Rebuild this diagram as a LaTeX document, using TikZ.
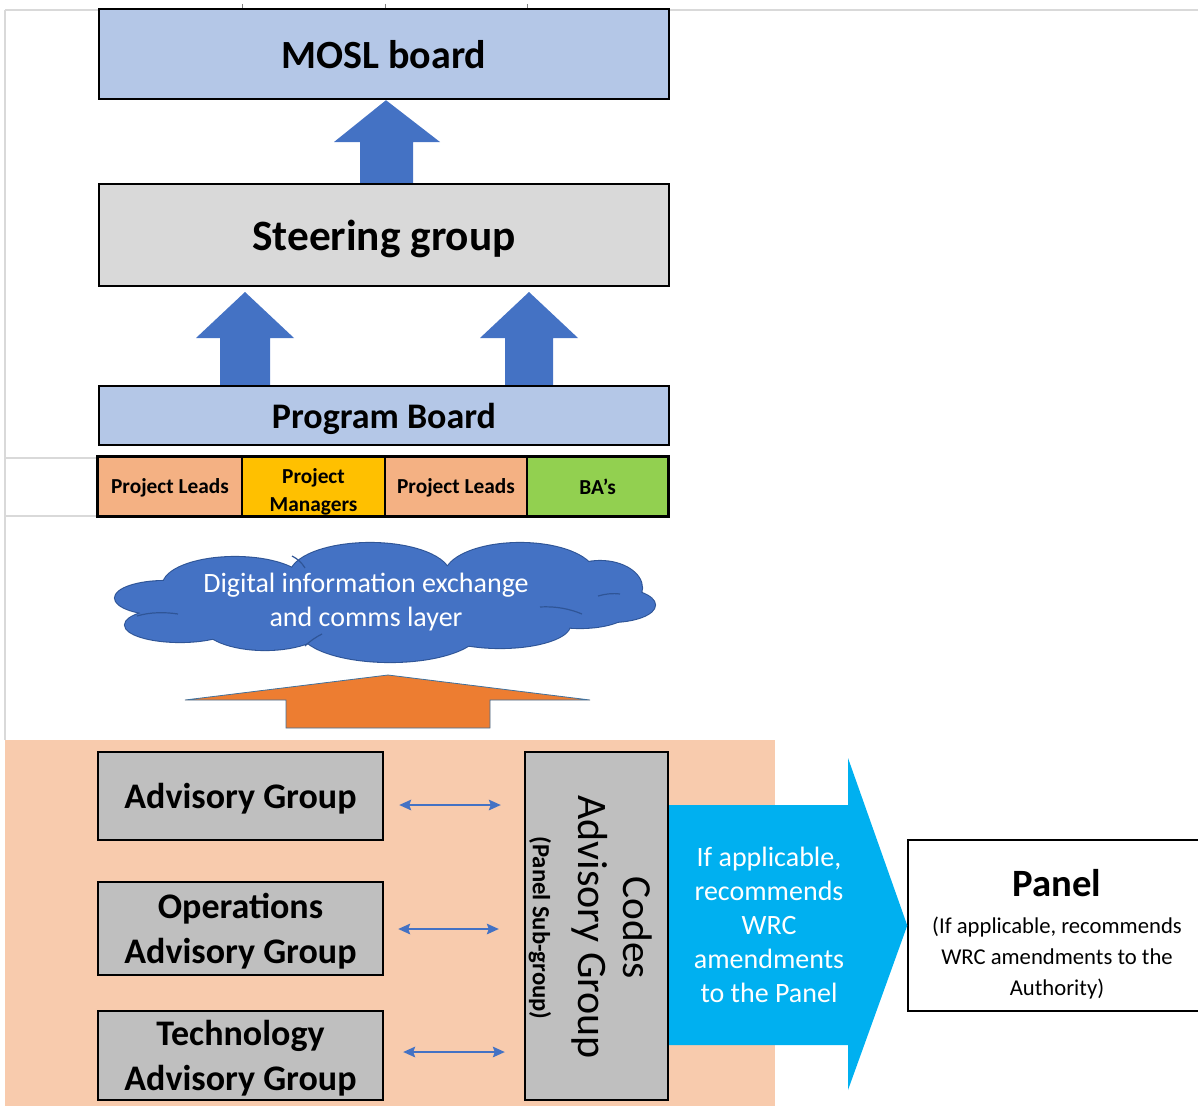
\documentclass[tikz,border=0pt]{standalone}
\usepackage{fontspec}
\setmainfont{Carlito}
\usetikzlibrary{arrows.meta,calc}

\definecolor{boardblue}{HTML}{B4C7E7}
\definecolor{steergray}{HTML}{D9D9D9}
\definecolor{leadpeach}{HTML}{F4B183}
\definecolor{mgrgold}{HTML}{FFC000}
\definecolor{bagreen}{HTML}{92D050}
\definecolor{accentblue}{HTML}{4472C4}
\definecolor{cloudedge}{HTML}{2F5597}
\definecolor{accentorange}{HTML}{ED7D31}
\definecolor{orangeedge}{HTML}{41719C}
\definecolor{zonepeach}{HTML}{F8CBAD}
\definecolor{groupgray}{HTML}{BFBFBF}
\definecolor{panelcyan}{HTML}{00B0F0}
\definecolor{gridgray}{HTML}{D9D9D9}

\begin{document}
\begin{tikzpicture}[x=0.75pt,y=-0.75pt,
  tier/.style={draw=black,line width=1.8pt,inner sep=0pt,minimum width=427.5pt,text depth=0pt},
  cell/.style={draw=black,line width=1.2pt,inner sep=0pt,minimum height=44.25pt,text depth=0pt,
    font=\fontsize{16}{21}\selectfont\bfseries,align=center},
  celltext/.style={inner sep=0pt,font=\fontsize{16}{21}\selectfont\bfseries,align=center},
  group/.style={draw=black,line width=1.8pt,fill=groupgray,inner sep=0pt,text depth=0pt,
    minimum width=213.75pt,font=\fontsize{27}{34}\selectfont\bfseries,align=center},
  bigtitle/.style={font=\fontsize{32.5}{38}\selectfont\bfseries},
  dbl/.style={accentblue,line width=1.1pt,{Stealth[length=9pt,width=8pt,inset=1.5pt]}-{Stealth[length=9pt,width=8pt,inset=1.5pt]}},
  grid/.style={gridgray,line width=0.8pt},
  puffline/.style={cloudedge,line width=0.9pt}
]
\useasboundingbox (0,0) rectangle (1198,1106);

% spreadsheet cell borders behind the chart
\draw[grid] (5,10) -- (1198,10);
\draw[grid] (5,10) -- (5,740);
\draw[grid] (5,458) -- (98,458);
\draw[grid] (5,516) -- (98,516);
\foreach \gx in {242,385,527} \draw[gray,line width=0.6pt] (\gx,4) -- (\gx,9);

% governance tiers
\node[tier,fill=boardblue,minimum height=67.5pt,font=\fontsize{30}{36}\selectfont\bfseries] (mosl) at (384,54) {MOSL board};
\node[tier,fill=steergray,minimum height=76.5pt,bigtitle] (steer) at (384,235) {Steering group};
\node[tier,fill=boardblue,minimum height=44.25pt,font=\fontsize{27}{32}\selectfont\bfseries] (prog) at (384,415.5) {Program Board};

% block arrows between tiers
\fill[accentblue] (360,0 |- steer.north) -- (360,142) -- (334,142) -- (386,0 |- mosl.south)
  -- (440,142) -- (413,142) -- (413,0 |- steer.north) -- cycle;
\fill[accentblue] (220,0 |- prog.north) -- (220,338) -- (196,338) -- (245,292)
  -- (294,338) -- (270,338) -- (270,0 |- prog.north) -- cycle;
\fill[accentblue] (505,0 |- prog.north) -- (505,338) -- (480,338) -- (529,292)
  -- (578,338) -- (553,338) -- (553,0 |- prog.north) -- cycle;

% project roles row
\node[cell,fill=leadpeach,minimum width=108pt] (leadA) at (170,486.5) {Project Leads};
\node[cell,fill=mgrgold,minimum width=107.25pt] (mgr) at (313.5,486.5) {};
\node[celltext] (mgrtext) at (313.5,492) {Project\\Managers};
\node[cell,fill=leadpeach,minimum width=106.5pt] (leadB) at (456,486.5) {Project Leads};
\node[cell,fill=bagreen,minimum width=105.75pt] (ba) at (597.5,486.5) {BA's};
\draw[black,line width=1.8pt] (leadA.north west) rectangle (ba.south east);

% communications layer: a cloud built from overlapping puffs
\def\puffs{235/585/72/28, 370/575/80/32, 520/575/75/32, 600/588/42/27, 610/605/45/17,
  580/610/50/18, 500/625/70/23, 390/630/90/32, 265/625/62/25, 180/625/55/17,
  165/598/50/17, 385/600/220/35}
\foreach \cx/\cy/\rx/\ry in \puffs
  \draw[cloudedge,line width=1.6pt] (\cx,\cy) ellipse [x radius=\rx*0.75pt, y radius=\ry*0.75pt];
\foreach \cx/\cy/\rx/\ry in \puffs
  \fill[accentblue] (\cx,\cy) ellipse [x radius=\rx*0.75pt, y radius=\ry*0.75pt];
% inner creases between puffs
\draw[puffline] (137,616) .. controls (150,612) and (165,612) .. (178,614);
\draw[puffline] (292,556) .. controls (298,559) and (302,563) .. (305,568);
\draw[puffline] (540,607) .. controls (556,606) and (570,609) .. (582,614);
\draw[puffline] (620,594) .. controls (612,593) and (605,594) .. (598,596);
\draw[puffline] (305,646) .. controls (310,641) and (316,637) .. (322,634);
\coordinate (cloudbase) at (388,663);
\node[text=white,align=center,font=\fontsize{21}{26}\selectfont] (cloudtext) at (366,602)
  {Digital information exchange\\and comms layer};
\draw[orangeedge,line width=0.6pt,fill=accentorange] (286,728) -- (286,700) -- (185,700)
  -- ($(cloudbase)+(0,12)$) -- (590,700) -- (490,700) -- (490,728) -- cycle;

% advisory groups
\fill[zonepeach] (5,740) rectangle (775,1106);
\node[group,minimum height=66pt] (ag) at (240.5,796) {Advisory Group};
\node[group,minimum height=69.75pt] (oag) at (240.5,928.5) {Operations\\Advisory Group};
\node[group,minimum height=66.75pt] (tag) at (240.5,1055.5) {Technology\\Advisory Group};
\node[draw=black,line width=1.8pt,fill=groupgray,inner sep=0pt,minimum width=107.25pt,
  minimum height=261pt] (cag) at (596.5,926) {};
\node[rotate=-90,font=\fontsize{31}{36}\selectfont] (cagA) at (638,928) {Codes};
\node[rotate=-90,font=\fontsize{31.5}{36}\selectfont] (cagB) at (590,927) {Advisory Group};
\node[rotate=-90,font=\fontsize{18.5}{22}\selectfont\bfseries] (cagC) at (540,928) {(Panel Sub-group)};

\draw[dbl] ($(ag.east)+(15,9)$) -- ($(ag.east -| cag.west)+(-23,9)$);
\draw[dbl] ($(oag.east)+(14,0.5)$) -- ($(oag.east -| cag.west)+(-25,0.5)$);
\draw[dbl] ($(tag.east)+(19,-3.5)$) -- ($(tag.east -| cag.west)+(-19,-3.5)$);

% recommendation to the Panel
\node[draw=black,line width=1.1pt,fill=white,inner sep=0pt,minimum width=218.25pt,
  minimum height=128.25pt] (panel) at (1053.5,925.5) {};
\fill[panelcyan] (cag.east |- 0,805) -- (848,805) -- (848,758) -- (panel.west)
  -- (848,1090) -- (848,1045) -- (cag.east |- 0,1045) -- cycle;
\node[text=white,align=center,font=\fontsize{21}{25.5}\selectfont] (recommend) at (769,925)
  {If applicable,\\recommends\\WRC\\amendments\\to the Panel};
\node[font=\fontsize{29}{34}\selectfont\bfseries] (paneltitle) at (1057,883) {Panel};
\node[align=center,font=\fontsize{17}{23}\selectfont] (panelnote) at (1057,958)
  {(If applicable, recommends\\WRC amendments to the\\Authority)};
\end{tikzpicture}
\end{document}
